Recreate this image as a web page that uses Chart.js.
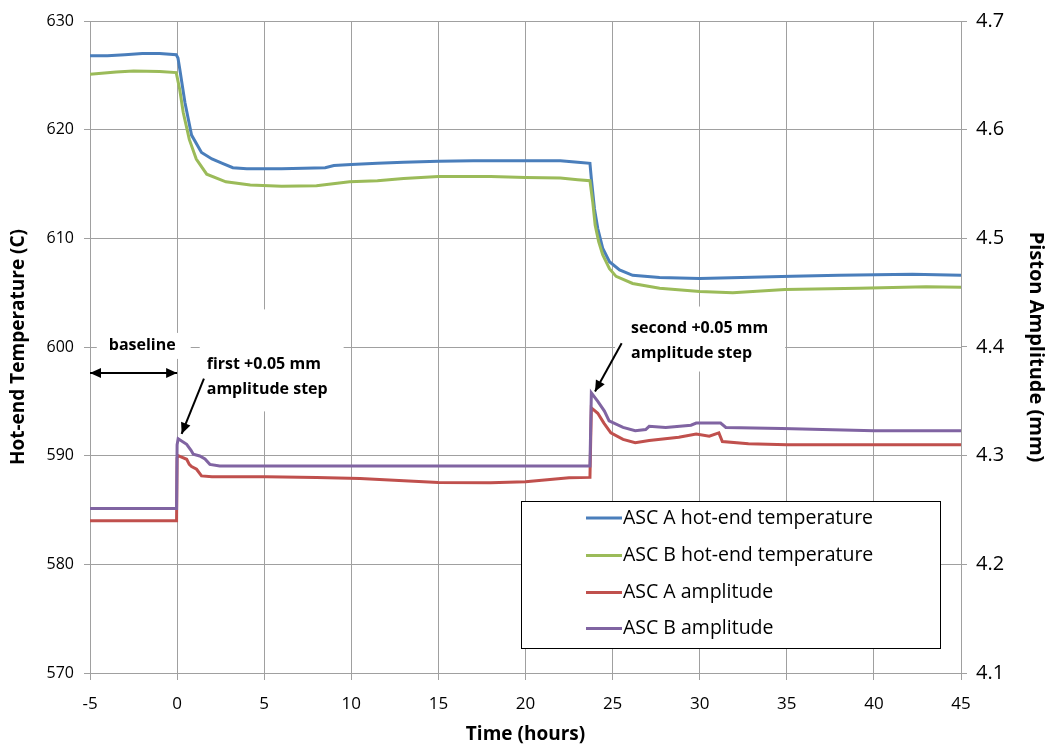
<!DOCTYPE html>
<html>
<head>
<meta charset="utf-8">
<title>ASC hot-end temperature and piston amplitude</title>
<script src="https://cdn.jsdelivr.net/npm/chart.js@4.4.1/dist/chart.umd.min.js"></script>
<style>
  html, body { margin: 0; padding: 0; background: #fff; }
  #wrap { width: 1050px; height: 746px; }
</style>
</head>
<body>
<div id="wrap"><canvas id="myChart" width="1050" height="746"></canvas></div>
<script>
// values (time in hours)
const tempAHours = [-5, -4, -3, -2, -1, -0.05, 0.05, 0.15, 0.45, 0.83, 1.4, 2.0, 2.6, 3.2, 4.0, 6, 8.5, 9.0, 10, 11.5, 13, 15, 17, 20, 22, 23, 23.7, 23.78, 23.96, 24.15, 24.43, 24.82, 25.4, 26.15, 27.7, 30, 32.4, 35.3, 38, 42.2, 45];
const tempAValues = [626.8, 626.8, 626.9, 627.0, 627.0, 626.9, 626.6, 625.6, 622.5, 619.5, 617.9, 617.3, 616.9, 616.5, 616.4, 616.4, 616.5, 616.7, 616.8, 616.9, 617.0, 617.1, 617.15, 617.15, 617.15, 617.0, 616.9, 615.5, 612.7, 610.9, 609.1, 607.85, 607.1, 606.6, 606.4, 606.3, 606.4, 606.5, 606.6, 606.7, 606.6];

const tempBHours = [-5, -3.5, -2.5, -1, -0.05, 0.15, 0.35, 0.7, 1.1, 1.7, 2.8, 4.2, 6, 8, 9.9, 11.5, 13, 15, 18, 20, 22, 23, 23.7, 23.86, 24.0, 24.2, 24.43, 24.82, 25.2, 26.15, 27.7, 30, 31.9, 34.9, 39.15, 43, 45];
const tempBValues = [625.1, 625.3, 625.4, 625.35, 625.25, 623.7, 621.6, 619.1, 617.3, 615.9, 615.2, 614.9, 614.8, 614.85, 615.2, 615.3, 615.5, 615.7, 615.7, 615.6, 615.55, 615.4, 615.3, 613.35, 611.2, 609.7, 608.5, 607.2, 606.5, 605.85, 605.4, 605.1, 605.0, 605.3, 605.4, 605.55, 605.5];

const ampAHours = [-5, -0.03, 0.0, 0.06, 0.55, 0.7, 0.83, 1.12, 1.4, 2, 5.1, 8, 10.5, 13.3, 15, 18, 20, 22.5, 23.7, 23.78, 24.15, 24.5, 24.9, 25.6, 26.3, 27.1, 28.8, 29.8, 30.55, 31.1, 31.3, 32.8, 35, 45];
const ampAValues = [4.240, 4.240, 4.298, 4.300, 4.2967, 4.292, 4.290, 4.2875, 4.2814, 4.2805, 4.2805, 4.280, 4.279, 4.2768, 4.2752, 4.275, 4.276, 4.2796, 4.280, 4.344, 4.339, 4.330, 4.321, 4.315, 4.312, 4.314, 4.317, 4.320, 4.318, 4.321, 4.313, 4.311, 4.310, 4.310];

const ampBHours = [-5, -0.03, 0.0, 0.06, 0.55, 0.8, 0.93, 1.3, 1.6, 1.88, 2.45, 23.7, 23.78, 24.15, 24.53, 24.8, 25.6, 26.3, 26.9, 27.1, 28.05, 29.5, 29.8, 31.2, 31.5, 34.7, 40, 45];
const ampBValues = [4.2514, 4.2514, 4.310, 4.3156, 4.3104, 4.305, 4.3013, 4.2997, 4.297, 4.292, 4.2906, 4.2906, 4.3578, 4.350, 4.341, 4.332, 4.326, 4.323, 4.324, 4.327, 4.326, 4.328, 4.330, 4.330, 4.326, 4.325, 4.323, 4.323];

const seriesNames = ['ASC A hot-end temperature', 'ASC B hot-end temperature', 'ASC A amplitude', 'ASC B amplitude'];
const hourTicks = [-5, 0, 5, 10, 15, 20, 25, 30, 35, 40, 45];
const tempTicks = [570, 580, 590, 600, 610, 620, 630];
const ampTicks = [4.1, 4.2, 4.3, 4.4, 4.5, 4.6, 4.7];

// annotations, placed in (hours, temperature) coordinates
const notes = [
    { lines: ['baseline'], x: -2, y: 600.1, align: 'center', pad: [12, 15, 13, 13] },
    { lines: ['first +0.05 mm', 'amplitude step'], x: 1.7, y: 598.4, align: 'left', pad: [7, 16, 55, 22] },
    { lines: ['second +0.05 mm', 'amplitude step'], x: 26.06, y: 601.7, align: 'left', pad: [16, 17, 22, 18] }
];
const arrows = [
    { from: [-5, 597.6], to: [0, 597.6], both: true },
    { from: [1.54, 597.1], to: [0.26, 592.0], both: false },
    { from: [25.52, 600.35], to: [23.99, 595.9], both: false }
];

const colors = ['#4a7ebb', '#9bbb59', '#c0504d', '#8064a2'];
const gridColor = '#a0a0a0';
const fontFamily = '"Open Sans", Lato, sans-serif';
const noteFont = 'bold 16px ' + fontFamily;
const lineGap = 25;

function toPoints(xs, ys) {
    return xs.map((x, i) => ({ x: x, y: ys[i] }));
}

function makeDataset(i, xs, ys, axis) {
    return {
        label: seriesNames[i],
        data: toPoints(xs, ys),
        yAxisID: axis,
        borderColor: colors[i],
        backgroundColor: colors[i],
        borderWidth: 3,
        pointRadius: 0,
        tension: 0,
        order: 3 - i
    };
}

function drawArrowHead(ctx, x1, y1, x2, y2) {
    const ang = Math.atan2(y2 - y1, x2 - x1);
    const len = 11, half = 5;
    ctx.beginPath();
    ctx.moveTo(x2, y2);
    ctx.lineTo(x2 - len * Math.cos(ang) + half * Math.sin(ang), y2 - len * Math.sin(ang) - half * Math.cos(ang));
    ctx.lineTo(x2 - len * Math.cos(ang) - half * Math.sin(ang), y2 - len * Math.sin(ang) + half * Math.cos(ang));
    ctx.closePath();
    ctx.fill();
}

const annotationPlugin = {
    id: 'notes',
    beforeDatasetsDraw(chart) {
        // white text boxes that hide the gridlines under the notes
        const ctx = chart.ctx;
        const xs = chart.scales.x, ys = chart.scales.yT;
        ctx.save();
        ctx.font = noteFont;
        ctx.fillStyle = '#fff';
        notes.forEach(n => {
            const x = xs.getPixelForValue(n.x);
            const y = ys.getPixelForValue(n.y);
            const w = Math.max(...n.lines.map(l => ctx.measureText(l).width));
            const left = n.align === 'center' ? x - w / 2 : x;
            const [pl, pr, pt, pb] = n.pad;
            const bottom = y + (n.lines.length - 1) * lineGap;
            ctx.fillRect(left - pl, y - pt, w + pl + pr, bottom - y + pt + pb);
        });
        ctx.restore();
    },
    afterDatasetsDraw(chart) {
        const ctx = chart.ctx;
        const xs = chart.scales.x, ys = chart.scales.yT;
        ctx.save();
        ctx.fillStyle = '#000';
        ctx.strokeStyle = '#000';
        ctx.lineWidth = 2;
        arrows.forEach(a => {
            const x1 = xs.getPixelForValue(a.from[0]), y1 = ys.getPixelForValue(a.from[1]);
            const x2 = xs.getPixelForValue(a.to[0]), y2 = ys.getPixelForValue(a.to[1]);
            ctx.beginPath();
            ctx.moveTo(x1, y1);
            ctx.lineTo(x2, y2);
            ctx.stroke();
            drawArrowHead(ctx, x1, y1, x2, y2);
            if (a.both) drawArrowHead(ctx, x2, y2, x1, y1);
        });
        ctx.font = noteFont;
        ctx.textBaseline = 'middle';
        notes.forEach(n => {
            const x = xs.getPixelForValue(n.x);
            const y = ys.getPixelForValue(n.y);
            ctx.textAlign = n.align;
            n.lines.forEach((line, k) => ctx.fillText(line, x, y + k * lineGap));
        });
        ctx.restore();
    }
};

const boxLegendPlugin = {
    id: 'boxLegend',
    afterDraw(chart) {
        const ctx = chart.ctx;
        const box = { left: 521, top: 501, right: 940, bottom: 648 };
        const rowY = [518, 555.5, 592.5, 628.5];
        ctx.save();
        ctx.fillStyle = '#fff';
        ctx.fillRect(box.left, box.top, box.right - box.left, box.bottom - box.top);
        ctx.strokeStyle = '#000';
        ctx.lineWidth = 1;
        ctx.strokeRect(box.left + 0.5, box.top + 0.5, box.right - box.left, box.bottom - box.top);
        ctx.font = '19.5px ' + fontFamily;
        ctx.textBaseline = 'middle';
        ctx.textAlign = 'left';
        chart.data.datasets.forEach((ds, i) => {
            ctx.strokeStyle = ds.borderColor;
            ctx.lineWidth = 3;
            ctx.beginPath();
            ctx.moveTo(586, rowY[i]);
            ctx.lineTo(622, rowY[i]);
            ctx.stroke();
            ctx.fillStyle = '#000';
            ctx.fillText(ds.label, 623, rowY[i]);
        });
        ctx.restore();
    }
};

const ctx = document.getElementById('myChart').getContext('2d');
const myChart = new Chart(ctx, {
    type: 'line',
    data: {
        datasets: [
            makeDataset(0, tempAHours, tempAValues, 'yT'),
            makeDataset(1, tempBHours, tempBValues, 'yT'),
            makeDataset(2, ampAHours, ampAValues, 'yA'),
            makeDataset(3, ampBHours, ampBValues, 'yA')
        ]
    },
    options: {
        responsive: false,
        animation: false,
        layout: { padding: { top: 18, left: 0, right: 0, bottom: 0 } },
        plugins: {
            legend: { display: false },
            tooltip: { enabled: false }
        },
        scales: {
            x: {
                type: 'linear',
                min: -5,
                max: 45,
                afterBuildTicks: s => { s.ticks = hourTicks.map(v => ({ value: v })); },
                afterFit: s => { s.height = 73; },
                grid: { color: gridColor, tickLength: 7 },
                border: { color: gridColor },
                ticks: { color: '#000', font: { family: fontFamily, size: 17 }, padding: 14, maxRotation: 0 },
                title: {
                    display: true, text: 'Time (hours)', color: '#000',
                    font: { family: fontFamily, size: 19, weight: 'bold' },
                    padding: { top: 0, bottom: 0 }
                }
            },
            yT: {
                type: 'linear',
                position: 'left',
                min: 570,
                max: 630,
                afterBuildTicks: s => { s.ticks = tempTicks.map(v => ({ value: v })); },
                afterFit: s => { s.width = 90; },
                grid: { color: gridColor, tickLength: 6 },
                border: { color: gridColor },
                ticks: { color: '#000', font: { family: fontFamily, size: 16 }, padding: 10 },
                title: {
                    display: true, text: 'Hot-end Temperature (C)', color: '#000',
                    font: { family: fontFamily, size: 19, weight: 'bold' },
                    padding: { top: 7, bottom: 0 }
                }
            },
            yA: {
                type: 'linear',
                position: 'right',
                min: 4.1,
                max: 4.7,
                afterBuildTicks: s => { s.ticks = ampTicks.map(v => ({ value: v })); },
                afterFit: s => { s.width = 89; },
                grid: { drawOnChartArea: false, color: gridColor, tickLength: 6 },
                border: { color: gridColor },
                ticks: {
                    color: '#000', font: { family: fontFamily, size: 20 }, padding: 9,
                    callback: v => Number(v).toFixed(1)
                },
                title: {
                    display: true, text: 'Piston Amplitude (mm)', color: '#000',
                    font: { family: fontFamily, size: 20, weight: 'bold' },
                    padding: { top: 2, bottom: 0 }
                }
            }
        }
    },
    plugins: [annotationPlugin, boxLegendPlugin]
});
</script>
</body>
</html>
